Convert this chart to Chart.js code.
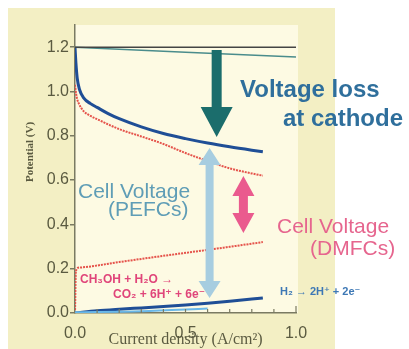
<!DOCTYPE html>
<html lang="en">
<head>
  <meta charset="UTF-8" />
  <title>Potential vs current density</title>
  <script src="https://cdn.jsdelivr.net/npm/chart.js"></script>
</head>
<style>
    body {
      margin: 0;
      background: #fff;
    }
    #grafico {
      display: block;
    }
</style>
<body>
  <canvas id="grafico" width="409" height="349"></canvas>
  <script>
    // x = current density (A/cm2), y = potential (V)
    const ocvX = [0, 1.0];
    const ocvY = [1.2, 1.2];
    const cathodeRefX = [0, 1.0];
    const cathodeRefY = [1.2, 1.155];

    const pefcCathodeX = [0, 0.004, 0.01, 0.02, 0.04, 0.07, 0.1, 0.15, 0.2, 0.3, 0.4, 0.5, 0.6, 0.7, 0.8, 0.85];
    const pefcCathodeY = [1.2, 1.13, 1.06, 1.01, 0.97, 0.945, 0.928, 0.9, 0.877, 0.84, 0.81, 0.787, 0.767, 0.75, 0.735, 0.728];

    const dmfcCathodeX = [0, 0.005, 0.01, 0.02, 0.04, 0.07, 0.1, 0.2, 0.3, 0.4, 0.5, 0.6, 0.7, 0.8, 0.85];
    const dmfcCathodeY = [1.03, 0.99, 0.965, 0.94, 0.91, 0.89, 0.875, 0.83, 0.797, 0.763, 0.722, 0.686, 0.653, 0.63, 0.62];

    const dmfcAnodeX = [0, 0.004, 0.02, 0.2, 0.4, 0.6, 0.85];
    const dmfcAnodeY = [0, 0.19, 0.205, 0.23, 0.258, 0.285, 0.32];

    const pefcAnodeX = [0, 0.1, 0.2, 0.3, 0.4, 0.5, 0.6, 0.7, 0.85];
    const pefcAnodeY = [0, 0.01, 0.017, 0.023, 0.029, 0.036, 0.044, 0.053, 0.068];

    const hydrogenX = [0, 0.3, 0.6];
    const hydrogenY = [0.003, 0.008, 0.02];

    // arrows: loss at cathode, PEFC cell voltage, DMFC cell voltage
    const arrowX = [0.641, 0.609, 0.762];
    const arrowTop = [1.187, 0.745, 0.618];
    const arrowBottom = [0.795, 0.068, 0.361];

    const xMinorTicks = [0.1, 0.2, 0.3, 0.4, 0.5, 0.6, 0.7, 0.8, 0.9, 1.0];

    const pts = (xs, ys) => xs.map((x, i) => ({ x: x, y: ys[i] }));

    const SANS = "'Liberation Sans', 'DejaVu Sans', Arial, sans-serif";
    const SERIF = "'Liberation Serif', 'DejaVu Serif', serif";
    const AXIS = '#7a7a62';
    const LABEL = '#5a5a40';

    function arrow(c, x, yT, yB, sw, hw, hl, color, headTop) {
      c.beginPath();
      if (headTop) {
        c.moveTo(x, yT);
        c.lineTo(x + hw / 2, yT + hl);
        c.lineTo(x + sw / 2, yT + hl);
      } else {
        c.moveTo(x + sw / 2, yT);
      }
      c.lineTo(x + sw / 2, yB - hl);
      c.lineTo(x + hw / 2, yB - hl);
      c.lineTo(x, yB);
      c.lineTo(x - hw / 2, yB - hl);
      c.lineTo(x - sw / 2, yB - hl);
      if (headTop) {
        c.lineTo(x - sw / 2, yT + hl);
        c.lineTo(x - hw / 2, yT + hl);
      } else {
        c.lineTo(x - sw / 2, yT);
      }
      c.closePath();
      c.fillStyle = color;
      c.fill();
    }

    function label(c, text, x, y, font, color) {
      c.font = font;
      c.fillStyle = color;
      c.textAlign = 'left';
      c.textBaseline = 'alphabetic';
      c.fillText(text, x, y);
    }

    const decor = {
      id: 'decor',
      beforeDraw(chart) {
        const c = chart.ctx;
        const a = chart.chartArea;
        c.save();
        c.fillStyle = '#f3efc4';
        c.fillRect(8, 8, 327, 341);
        c.fillStyle = '#fdfae3';
        c.fillRect(a.left, a.top, 298 - a.left, a.bottom - a.top);
        c.restore();
      },
      afterDatasetsDraw(chart) {
        const c = chart.ctx;
        const xs = chart.scales.x;
        const ys = chart.scales.y;
        c.save();
        // inward minor ticks on the x axis
        c.strokeStyle = AXIS;
        c.lineWidth = 1.2;
        xMinorTicks.forEach(v => {
          const px = xs.getPixelForValue(v);
          const len = v === 1.0 ? 7 : 4;
          c.beginPath();
          c.moveTo(px, ys.bottom);
          c.lineTo(px, ys.bottom - len);
          c.stroke();
        });
        const px = arrowX.map(v => xs.getPixelForValue(v));
        const top = arrowTop.map(v => ys.getPixelForValue(v));
        const bot = arrowBottom.map(v => ys.getPixelForValue(v));
        arrow(c, px[0], top[0], bot[0], 10, 32, 30, '#1b6d6c', false);
        arrow(c, px[1], top[1], bot[1], 8, 22, 17, '#a7cde0', true);
        arrow(c, px[2], top[2], bot[2], 9, 22, 20, '#ea5a8e', true);
        c.restore();
      },
      afterDraw(chart) {
        const c = chart.ctx;
        c.save();
        label(c, 'Voltage loss', 240, 97, 'bold 24px ' + SANS, '#2f6f9c');
        label(c, 'at cathode', 283, 126, 'bold 24px ' + SANS, '#2f6f9c');
        label(c, 'Cell Voltage', 78, 198, '21px ' + SANS, '#5f9db6');
        label(c, '(PEFCs)', 108, 216, '21px ' + SANS, '#5f9db6');
        label(c, 'Cell Voltage', 277, 233, '21px ' + SANS, '#e6658e');
        label(c, '(DMFCs)', 310, 255, '21px ' + SANS, '#e6658e');
        label(c, 'CH\u2083OH + H\u2082O \u2192', 80, 283, 'bold 12px ' + SANS, '#e0457a');
        label(c, 'CO\u2082 + 6H\u207A + 6e\u207B', 113, 298, 'bold 12px ' + SANS, '#e0457a');
        label(c, 'H\u2082 \u2192 2H\u207A + 2e\u207B', 280, 295, 'bold 11px ' + SANS, '#3d78b5');
        // y axis title
        c.translate(30, 152);
        c.rotate(-Math.PI / 2);
        c.font = 'bold 11px ' + SERIF;
        c.fillStyle = LABEL;
        c.textAlign = 'center';
        c.textBaseline = 'middle';
        c.fillText('Potential (V)', 0, 0);
        c.restore();
      }
    };

    new Chart(document.getElementById('grafico'), {
      type: 'scatter',
      data: {
        datasets: [
          { data: pts(ocvX, ocvY), borderColor: '#444444', borderWidth: 1.5 },
          { data: pts(cathodeRefX, cathodeRefY), borderColor: '#4a8c8c', borderWidth: 1.5 },
          { data: pts(hydrogenX, hydrogenY), borderColor: '#6ab8e8', borderWidth: 2 },
          { data: pts(pefcAnodeX, pefcAnodeY), borderColor: '#1f4e96', borderWidth: 3 },
          { data: pts(dmfcAnodeX, dmfcAnodeY), borderColor: '#e5534b', borderWidth: 2, borderDash: [2, 1] },
          { data: pts(dmfcCathodeX, dmfcCathodeY), borderColor: '#e5534b', borderWidth: 2, borderDash: [2, 1] },
          { data: pts(pefcCathodeX, pefcCathodeY), borderColor: '#1f4e96', borderWidth: 3 }
        ].map(d => Object.assign({ showLine: true, pointRadius: 0, cubicInterpolationMode: 'monotone' }, d))
      },
      options: {
        responsive: false,
        animation: false,
        devicePixelRatio: 1,
        layout: { padding: { left: 0, top: 25, right: 113, bottom: 0 } },
        plugins: { legend: { display: false }, tooltip: { enabled: false } },
        scales: {
          x: {
            type: 'linear',
            min: 0,
            max: 1,
            ticks: {
              stepSize: 0.5,
              padding: 3,
              color: LABEL,
              font: { family: SANS, size: 16 },
              callback: v => v.toFixed(1)
            },
            grid: { display: false },
            border: { color: AXIS, width: 1.5 },
            title: {
              display: true,
              text: 'Current density (A/cm²)',
              color: LABEL,
              font: { family: SERIF, size: 16 },
              padding: { top: 0, bottom: 0 }
            },
            afterFit: s => { s.height = 36; }
          },
          y: {
            type: 'linear',
            min: 0,
            max: 1.3,
            ticks: {
              stepSize: 0.2,
              padding: 1,
              color: LABEL,
              font: { family: SANS, size: 16 },
              callback: v => v.toFixed(1)
            },
            afterBuildTicks: s => { s.ticks = s.ticks.filter(t => t.value <= 1.2001); },
            grid: { drawOnChartArea: false, tickLength: 5, color: AXIS, lineWidth: 1.5 },
            border: { color: AXIS, width: 1.5 },
            afterFit: s => { s.width = 75; }
          }
        }
      },
      plugins: [decor]
    });
  </script>
</body>
</html>
